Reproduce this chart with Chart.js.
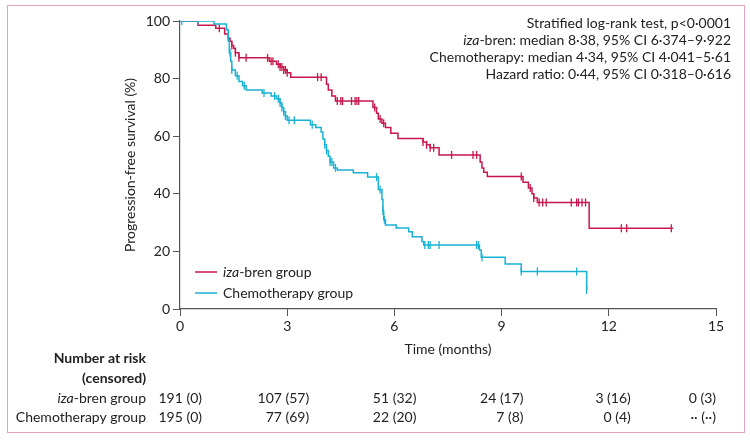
<!DOCTYPE html>
<html>
<head>
<meta charset="utf-8">
<script src="https://cdn.jsdelivr.net/npm/chart.js@4.4.1/dist/chart.umd.min.js"></script>
<style>
  body { margin: 0; background: #fff; }
  #wrap { position: relative; width: 750px; height: 440px; }
  #frame { position: absolute; left: 7px; top: 5px; width: 736px; height: 426px; border: 1px solid #e4a3c1; pointer-events: none; }
</style>
</head>
<body>
<div id="wrap">
  <canvas id="kmCanvas" width="750" height="440"></canvas>
  <div id="frame"></div>
</div>
<script>
// iza-bren group: step curve (time in months, PFS %)
const izaTimes = [0, 0.5, 1.0, 1.25, 1.35, 1.4, 1.45, 1.5, 1.55, 1.65, 2.5, 2.7, 2.8, 2.9, 3.0, 3.1, 4.1, 4.15, 4.25, 4.35, 5.4, 5.5, 5.55, 5.65, 5.75, 5.9, 6.1, 6.8, 6.9, 7.0, 7.25, 8.4, 8.45, 8.5, 8.6, 9.6, 9.75, 9.85, 9.9, 10.0, 11.45, 13.8];
const izaSurv = [100, 98.5, 97.5, 95.5, 94, 93, 91.5, 90.5, 89, 87.2, 86, 85, 84, 83, 82, 80.5, 78, 76, 74, 72.2, 70, 68, 66, 64.5, 63, 61, 59.2, 58, 57, 56, 53.5, 51, 49, 47.5, 46, 44, 42, 40, 38.5, 37, 28, 28];
const izaCensor = [1.1, 1.45, 1.55, 1.65, 1.85, 2.45, 2.55, 2.6, 2.75, 2.8, 2.85, 2.9, 2.95, 3.0, 3.85, 3.95, 4.4, 4.5, 4.55, 4.8, 4.9, 4.95, 5.0, 5.45, 5.6, 5.7, 6.8, 6.9, 7.0, 7.1, 7.6, 8.2, 8.3, 9.55, 9.8, 9.9, 10.05, 10.15, 10.25, 10.95, 11.1, 11.15, 11.25, 11.35, 12.35, 12.5, 13.75];

// Chemotherapy group
const chemoTimes = [0, 0.95, 1.3, 1.35, 1.38, 1.42, 1.45, 1.55, 1.65, 1.75, 1.85, 2.3, 2.55, 2.7, 2.8, 2.85, 2.9, 2.95, 3.0, 3.65, 3.8, 3.95, 4.0, 4.05, 4.1, 4.15, 4.2, 4.3, 4.4, 4.85, 5.25, 5.55, 5.65, 5.68, 5.7, 5.75, 6.05, 6.4, 6.5, 6.77, 6.82, 8.38, 8.43, 9.1, 9.55, 11.38];
const chemoSurv = [100, 99, 97, 93, 89, 86, 83, 81, 79, 77.5, 76, 75, 74, 73, 71.5, 70, 68.5, 67, 65.5, 64, 63, 61.5, 59, 57, 55, 53, 51, 49, 48.3, 47.3, 45.8, 41.5, 38, 34, 31, 29.2, 28.1, 26.8, 25.1, 23.4, 22.2, 20.5, 18, 15.6, 13, 6.6];
const chemoCensor = [0.05, 0.5, 1.4, 1.45, 1.6, 1.8, 2.35, 2.65, 2.75, 2.8, 2.85, 2.9, 2.95, 3.05, 3.2, 3.7, 4.05, 4.1, 4.2, 4.25, 4.35, 5.5, 5.6, 5.68, 5.72, 6.85, 6.95, 7.0, 7.25, 8.3, 8.35, 8.45, 9.55, 10.0, 11.1, 11.38];

// number at risk table
const riskTimes = [0, 3, 6, 9, 12, 15];
const izaAtRisk = [191, 107, 51, 24, 3, 0];
const izaCensored = [0, 57, 32, 17, 16, 3];
const chemoAtRisk = [195, 77, 22, 7, 0, null];
const chemoCensored = [0, 69, 20, 8, 4, null];

const xTicks = [0, 3, 6, 9, 12, 15];
const yTicks = [0, 20, 40, 60, 80, 100];

const RED = "#c8174c";
const CYAN = "#19b2d4";
const FONT = "Lato";
const TEXT = "#222";

function curve(times, surv) {
  return times.map((t, i) => ({ x: t, y: surv[i] }));
}

function survAt(times, surv, t) {
  let s = surv[0];
  for (let i = 0; i < times.length; i++) {
    if (times[i] <= t) s = surv[i];
  }
  return s;
}

function censorPoints(cens, times, surv) {
  return cens.map((t) => ({ x: t, y: survAt(times, surv, t) }));
}

// draws text made of [string, italic] parts
function mixedText(ctx, parts, x, y, align, size) {
  const widths = parts.map((p) => {
    ctx.font = (p[1] ? "italic " : "") + size + "px " + FONT;
    return ctx.measureText(p[0]).width;
  });
  const total = widths.reduce((a, b) => a + b, 0);
  let cx = align === "right" ? x - total : align === "center" ? x - total / 2 : x;
  ctx.textAlign = "left";
  parts.forEach((p, i) => {
    ctx.font = (p[1] ? "italic " : "") + size + "px " + FONT;
    ctx.fillText(p[0], cx, y);
    cx += widths[i];
  });
}

const extras = {
  id: "extras",
  afterDraw(chart) {
    const ctx = chart.ctx;
    const area = chart.chartArea;
    const xs = chart.scales.x;
    ctx.save();
    ctx.fillStyle = TEXT;
    ctx.textBaseline = "middle";

    // axis titles
    ctx.font = "14px " + FONT;
    ctx.textAlign = "center";
    ctx.fillText("Time (months)", (area.left + area.right) / 2, 349);
    ctx.save();
    ctx.translate(130, (area.top + area.bottom) / 2);
    ctx.rotate(-Math.PI / 2);
    ctx.fillText("Progression-free survival (%)", 0, 0);
    ctx.restore();

    // stats block
    const rx = 731;
    mixedText(ctx, [["Stratified log-rank test, p<0·0001", false]], rx, 23, "right", 14);
    mixedText(ctx, [["iza", true], ["-bren: median 8·38, 95% CI 6·374–9·922", false]], rx, 40, "right", 14);
    mixedText(ctx, [["Chemotherapy: median 4·34, 95% CI 4·041–5·61", false]], rx, 57, "right", 14);
    mixedText(ctx, [["Hazard ratio: 0·44, 95% CI 0·318–0·616", false]], rx, 74, "right", 14);

    // legend
    const leg = [
      [[["iza", true], ["-bren group", false]], RED, 272],
      [[["Chemotherapy group", false]], CYAN, 293],
    ];
    leg.forEach((l) => {
      ctx.strokeStyle = l[1];
      ctx.lineWidth = 1.5;
      ctx.beginPath();
      ctx.moveTo(195, l[2]);
      ctx.lineTo(217, l[2]);
      ctx.stroke();
      mixedText(ctx, l[0], 223, l[2], "left", 14);
    });

    // number at risk
    ctx.font = "bold 14px " + FONT;
    ctx.textAlign = "right";
    ctx.fillText("Number at risk", 146, 358);
    ctx.fillText("(censored)", 146, 378);
    mixedText(ctx, [["iza", true], ["-bren group", false]], 146, 398, "right", 14);
    mixedText(ctx, [["Chemotherapy group", false]], 146, 417, "right", 14);
    ctx.font = "14px " + FONT;
    ctx.textAlign = "right";
    riskTimes.forEach((t, i) => {
      const px = Math.min(xs.getPixelForValue(t) + 22, area.right);
      ctx.fillText(izaAtRisk[i] + " (" + izaCensored[i] + ")", px, 398);
      const c = chemoAtRisk[i] === null ? "·· (··)" : chemoAtRisk[i] + " (" + chemoCensored[i] + ")";
      ctx.fillText(c, px, 417);
    });
    ctx.restore();
  },
};

const ctx = document.getElementById("kmCanvas").getContext("2d");

new Chart(ctx, {
  type: "line",
  data: {
    datasets: [
      {
        label: "iza-bren group",
        data: curve(izaTimes, izaSurv),
        borderColor: RED,
        borderWidth: 1.5,
        stepped: true,
        pointRadius: 0,
        order: 2,
      },
      {
        label: "iza-bren censored",
        data: censorPoints(izaCensor, izaTimes, izaSurv),
        showLine: false,
        pointStyle: "line",
        rotation: 90,
        pointRadius: 4,
        borderColor: RED,
        pointBorderWidth: 1.3,
        order: 2,
      },
      {
        label: "Chemotherapy group",
        data: curve(chemoTimes, chemoSurv),
        borderColor: CYAN,
        borderWidth: 1.5,
        stepped: true,
        pointRadius: 0,
        order: 1,
      },
      {
        label: "Chemotherapy censored",
        data: censorPoints(chemoCensor, chemoTimes, chemoSurv),
        showLine: false,
        pointStyle: "line",
        rotation: 90,
        pointRadius: 4,
        borderColor: CYAN,
        pointBorderWidth: 1.3,
        order: 1,
      },
    ],
  },
  options: {
    responsive: false,
    animation: false,
    devicePixelRatio: 1,
    layout: { padding: { top: 21, right: 34, left: 0, bottom: 0 } },
    plugins: {
      legend: { display: false },
      tooltip: { enabled: false },
    },
    scales: {
      x: {
        type: "linear",
        min: 0,
        max: 15,
        afterFit(scale) { scale.height = 131; },
        afterBuildTicks(scale) { scale.ticks = xTicks.map((v) => ({ value: v })); },
        border: { display: true, color: "#555", width: 1.2 },
        grid: { drawOnChartArea: false, drawTicks: true, tickLength: 7, color: "#555" },
        ticks: { color: TEXT, font: { family: FONT, size: 14 }, padding: 2, maxRotation: 0 },
      },
      y: {
        min: 0,
        max: 100,
        afterFit(scale) { scale.width = 180; },
        afterBuildTicks(scale) { scale.ticks = yTicks.map((v) => ({ value: v })); },
        border: { display: true, color: "#555", width: 1.2 },
        grid: { drawOnChartArea: false, drawTicks: true, tickLength: 7, color: "#555" },
        ticks: { color: TEXT, font: { family: FONT, size: 14 }, padding: 3 },
      },
    },
  },
  plugins: [extras],
});
</script>
</body>
</html>
